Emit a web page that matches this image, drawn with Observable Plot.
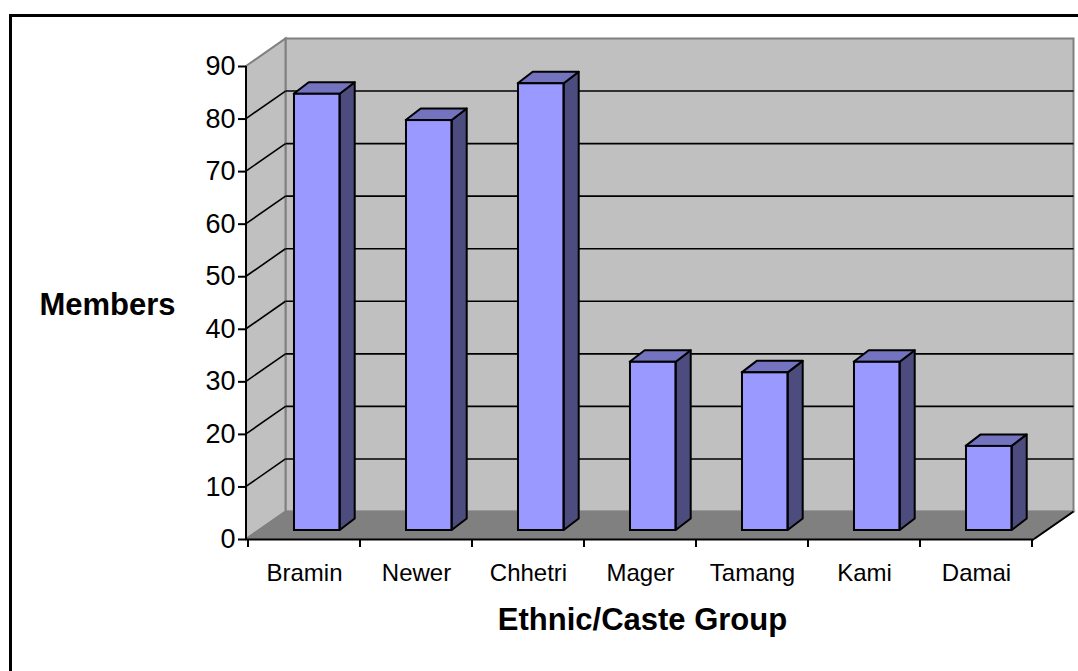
<!DOCTYPE html>
<html><head><meta charset="utf-8">
<script src="https://cdn.jsdelivr.net/npm/d3@7"></script>
<script src="https://cdn.jsdelivr.net/npm/@observablehq/plot@0.6"></script>
<style>
html,body{margin:0;padding:0;background:#fff;}
#wrap{position:relative;width:1078px;height:671px;overflow:hidden;}
#border{position:absolute;left:9px;top:14px;width:2000px;height:2000px;border-left:3px solid #000;border-top:3px solid #000;box-sizing:border-box;}
#chart{position:absolute;left:0;top:0;}
</style></head><body>
<div id="wrap"><div id="border"></div><div id="chart"></div></div>
<script>
const categories = ["Bramin","Newer","Chhetri","Mager","Tamang","Kami","Damai"];
const members = [83,78,85,32,30,32,16];
const yTicks = [0,10,20,30,40,50,60,70,80,90];
const yTitle = "Members";
const xTitle = "Ethnic/Caste Group";
const data = categories.map((c,i)=>({category:c, members:members[i]}));

const W = 1078, H = 671, mL = 246, mR = 44, mT = 66, mB = 132;
const WALL = {dx: 39.5, dy: -27.5};
const BAR = {offX: 12.7, offY: -9, width: 46, depthX: 15, depthY: -11.5};
const bandW = (W - mL - mR) / categories.length;
const inset = (bandW - BAR.width) / 2;

function pts(a){ return a.map(p => p.join(",")).join(" "); }

function walls(index, scales, values, dims) {
  const {y} = scales;
  const x0 = dims.marginLeft, x1 = dims.width - dims.marginRight;
  const yb = y(yTicks[0]), yt = y(yTicks[yTicks.length-1]);
  const {dx, dy} = WALL;
  const g = d3.create("svg:g");
  g.append("polygon").attr("points", pts([[x0+dx,yt+dy],[x1+dx,yt+dy],[x1+dx,yb+dy],[x0+dx,yb+dy]]))
    .attr("fill","#c0c0c0").attr("stroke","#808080").attr("stroke-width",2);
  g.append("polygon").attr("points", pts([[x0,yt],[x0+dx,yt+dy],[x0+dx,yb+dy],[x0,yb]]))
    .attr("fill","#c0c0c0").attr("stroke","#808080").attr("stroke-width",2);
  g.append("polygon").attr("points", pts([[x0,yb],[x0+dx,yb+dy],[x1+dx,yb+dy],[x1,yb]]))
    .attr("fill","#808080").attr("stroke","#808080").attr("stroke-width",1.5);
  g.append("line").attr("x1",x1).attr("y1",yb).attr("x2",x1+dx).attr("y2",yb+dy)
    .attr("stroke","#000").attr("stroke-width",2);
  for (const v of yTicks.slice(1,-1)) {
    const yy = y(v);
    g.append("line").attr("x1",x0+dx).attr("y1",yy+dy).attr("x2",x1+dx).attr("y2",yy+dy)
      .attr("stroke","#000").attr("stroke-width",1.6);
    g.append("line").attr("x1",x0).attr("y1",yy).attr("x2",x0+dx).attr("y2",yy+dy)
      .attr("stroke","#000").attr("stroke-width",1.6);
  }
  return g.node();
}

function barSides(index, scales) {
  const {x, y} = scales;
  const bw = x(categories[1]) - x(categories[0]);
  const g = d3.create("svg:g").attr("stroke","#000").attr("stroke-width",2).attr("stroke-linejoin","round");
  for (const d of data) {
    const cx = x(d.category) + bw/2 + BAR.offX;
    const l = cx - BAR.width/2, r = cx + BAR.width/2;
    const t = y(d.members) + BAR.offY, b = y(0) + BAR.offY;
    const {depthX: ddx, depthY: ddy} = BAR;
    g.append("polygon").attr("points", pts([[r,b],[r+ddx,b+ddy],[r+ddx,t+ddy],[r,t]])).attr("fill","#4c4c7f");
    g.append("polygon").attr("points", pts([[l,t],[l+ddx,t+ddy],[r+ddx,t+ddy],[r,t]])).attr("fill","#7373bf");
  }
  return g.node();
}

function axisLines(index, scales, values, dims) {
  const {x, y} = scales;
  const bw = x(categories[1]) - x(categories[0]);
  const x0 = dims.marginLeft;
  const g = d3.create("svg:g").attr("stroke","#000").attr("stroke-width",2);
  g.append("line").attr("x1",x0).attr("y1",y(0)).attr("x2",x0).attr("y2",y(90));
  const edges = categories.map(c => x(c)).concat([x(categories[categories.length-1]) + bw]);
  for (const e of edges) {
    g.append("line").attr("x1",e).attr("y1",y(0)).attr("x2",e).attr("y2",y(0)+8);
  }
  return g.node();
}

const chart = Plot.plot({
  width: W, height: H,
  marginLeft: mL, marginRight: mR, marginTop: mT, marginBottom: mB,
  style: {fontFamily: "'Liberation Sans', Arial, sans-serif", background: "transparent", color: "#000", overflow: "visible"},
  x: {type: "band", domain: categories, padding: 0},
  y: {domain: [0, 90]},
  marks: [
    walls,
    barSides,
    Plot.barY(data, {x: "category", y: "members", fill: "#9999ff", stroke: "#000", strokeWidth: 2,
      insetLeft: inset, insetRight: inset, dx: BAR.offX, dy: BAR.offY}),
    Plot.ruleY([0], {stroke: "#000", strokeWidth: 2}),
    axisLines,
    Plot.axisY({ticks: yTicks, tickSize: 8, tickPadding: 3, fontSize: 27, label: null, stroke: "#000", strokeWidth: 2}),
    Plot.axisX({tickSize: 0, tickPadding: 24, fontSize: 24, label: null}),
    Plot.text([yTitle], {text: d => d, frameAnchor: "left", dx: -139, dy: 2, fontSize: 31, fontWeight: "bold", textAnchor: "middle", fill: "#000"}),
    Plot.text([xTitle], {text: d => d, frameAnchor: "bottom", dx: 2, dy: 90, fontSize: 31, fontWeight: "bold", textAnchor: "middle", fill: "#000"})
  ]
});
document.getElementById("chart").appendChild(chart);
</script>
</body></html>
